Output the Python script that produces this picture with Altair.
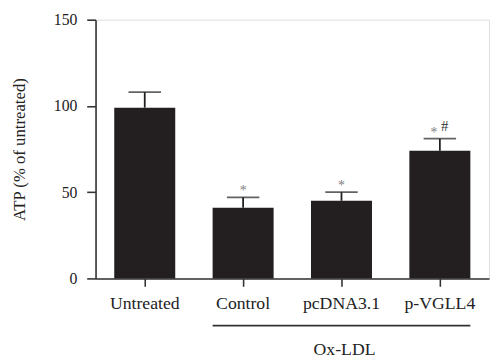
import altair as alt
import pandas as pd

groups = ["Untreated", "Control", "pcDNA3.1", "p-VGLL4"]
means = [99, 41, 45, 74]
upper = [108, 47, 50, 81]
stars = ["", "*", "*", "*"]
hashes = ["", "", "", "#"]

df = pd.DataFrame({"group": groups, "mean": means, "upper": upper,
                   "star": stars, "hash": hashes})

FONT = "Liberation Serif"
DARK = "#231f20"

xscale = alt.Scale(domain=groups, paddingInner=0.38, paddingOuter=0.19)

x_enc = alt.X("group:N", scale=xscale,
              axis=alt.Axis(title=None, labelAngle=0, labelFont=FONT, labelFontSize=18,
                            labelColor="#222", labelPadding=9, tickSize=8, tickWidth=1.6,
                            tickColor="#333", domainColor="#333", domainWidth=1.6))
y_enc = alt.Y("mean:Q",
              scale=alt.Scale(domain=[0, 150], nice=False),
              axis=alt.Axis(title="ATP (% of untreated)", values=[0, 50, 100, 150],
                            labelFont=FONT, labelFontSize=16, labelColor="#222",
                            labelPadding=10, tickSize=9, tickWidth=1.6, tickColor="#333",
                            domainColor="#333", domainWidth=1.6, grid=False,
                            titleFont=FONT, titleFontSize=17, titleFontWeight="normal",
                            titleColor="#222", titlePadding=25))

xg = alt.X("group:N", scale=xscale)
base = alt.Chart(df)

bars = base.mark_bar(color=DARK).encode(x=x_enc, y=y_enc)
err = base.mark_rule(color=DARK, strokeWidth=1.8).encode(x=xg, y="mean:Q", y2="upper:Q")
caps = base.mark_tick(color=DARK, thickness=1.8, size=33).encode(x=xg, y="upper:Q")

star_single = alt.Chart(df[(df["star"] == "*") & (df["hash"] == "")]).mark_text(
    font=FONT, fontSize=14, color="#808080", baseline="alphabetic", dy=-2).encode(
    x=xg, y="upper:Q", text="star:N")
star_pair = alt.Chart(df[df["hash"] == "#"]).mark_text(
    font=FONT, fontSize=14, color="#808080", baseline="alphabetic", dy=-2, dx=-6).encode(
    x=xg, y="upper:Q", text="star:N")
hash_t = alt.Chart(df[df["hash"] == "#"]).mark_text(
    font=FONT, fontSize=15, color="#333", baseline="alphabetic", dy=-8, dx=5).encode(
    x=xg, y="upper:Q", text="hash:N")

brk = pd.DataFrame({"start": ["Control"], "end": ["p-VGLL4"], "label": ["Ox-LDL"],
                    "mid": ["pcDNA3.1"]})
bracket = alt.Chart(brk).mark_rule(color="#333", strokeWidth=1.6).encode(
    x=alt.X("start:N", scale=xscale, bandPosition=0),
    x2=alt.X2("end:N", bandPosition=1),
    y=alt.value(311))
ox = alt.Chart(brk).mark_text(font=FONT, fontSize=18, color="#222", baseline="alphabetic").encode(
    x=alt.X("mid:N", scale=xscale, bandPosition=0.55),
    y=alt.value(341),
    text="label:N")

chart = alt.layer(bars, err, caps, star_single, star_pair, hash_t, bracket, ox).properties(
    width=400, height=263,
    autosize=alt.AutoSizeParams(type="none"),
    padding={"left": 89, "top": 9, "right": 3, "bottom": 78},
).configure_view(stroke=None).configure(background="white")

chart.save("out.html", embed_options={"renderer": "svg", "actions": False})
